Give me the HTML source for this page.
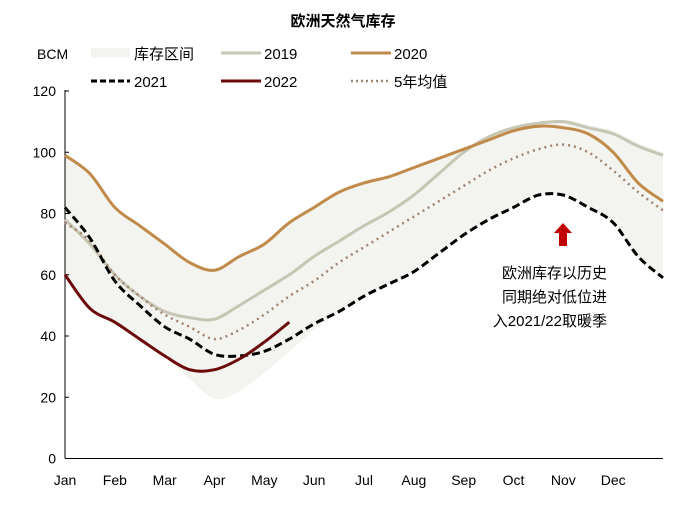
<!DOCTYPE html>
<html><head><meta charset="utf-8"><style>
body{margin:0;background:#fff;}
svg text{font-family:"Liberation Sans","Noto Sans CJK SC",sans-serif;}
</style></head><body>
<svg width="687" height="505" xmlns="http://www.w3.org/2000/svg">
<text x="343" y="26" text-anchor="middle" font-size="15" font-weight="bold" fill="#000">欧洲天然气库存</text>
<text x="37" y="59" font-size="14" fill="#000">BCM</text>
<g font-size="15">
 <g><rect x="91" y="48" width="39" height="9" fill="#f3f3ef"/><text x="134" y="59">库存区间</text></g>
 <g><line x1="221" y1="53" x2="261" y2="53" stroke="#c7c6b4" stroke-width="3"/><text x="264" y="59">2019</text></g>
 <g><line x1="351" y1="53" x2="391" y2="53" stroke="#c08b4a" stroke-width="3"/><text x="394" y="59">2020</text></g>
 <g><line x1="91" y1="81" x2="130" y2="81" stroke="#000" stroke-width="3" stroke-dasharray="6,3"/><text x="134" y="87">2021</text></g>
 <g><line x1="221" y1="81" x2="261" y2="81" stroke="#6b0a0a" stroke-width="3"/><text x="264" y="87">2022</text></g>
 <g><line x1="351" y1="81" x2="391" y2="81" stroke="#a08470" stroke-width="2.5" stroke-dasharray="2,3"/><text x="394" y="87">5年均值</text></g>
</g>
<g id="plot"></g>
<g>
 <polygon points="563,223 572,233 567,233 567,246 559,246 559,233 554,233" fill="#c00000"/>
 <text x="607" y="278" text-anchor="end" font-size="15">欧洲库存以历史</text>
 <text x="607" y="302" text-anchor="end" font-size="15">同期绝对低位进</text>
 <text x="607" y="326" text-anchor="end" font-size="15">入2021/22取暖季</text>
</g>
</svg>
<script>
// values on half-month grid: Jan start (0) .. end of Dec (12)
const months = ["Jan","Feb","Mar","Apr","May","Jun","Jul","Aug","Sep","Oct","Nov","Dec"];
const yTicks = [0,20,40,60,80,100,120];
const s2019 = [78,70,60,53,48,46,45.5,50,55,60,66,71,76,80.5,86,93,100,105,108,109.5,110,108,106,102,99];
const s2020 = [99,93,82,76,70,64,61.5,66,70,77,82,87,90,92,95,98,101,104,107,108.5,108,106,100,90,84];
const s2021 = [82,72,58,50,43,39,34,33.5,35,39,44,48,53,57,61,67,73,78,82,86,86,82,77,66,59];
const s2022 = [60,49,44.5,39,33.5,29,29,32.5,38,44.5];
const s5yr = [77,71,60,53,47,43,39,42,47,53,58,64,69,74,79,84,89,94,98,101,102.5,100,94,87,81];
const bandUpper = [99,93,82,76,70,64,61.5,66,70,77,82,87,90,92,95,98,101,104,107,109,110.5,109,107,103,100];
const bandLower = [60,49,44,38,33,26,19.5,22,28,35,42,48,53,57,61,67,73,78,82,86,86,82,77,66,59];

const X0=65, X1=663, Y0=458.5, Y120=91;
const xs = m => X0 + (X1-X0)*m/12;
const ys = v => Y0 + (Y120-Y0)*v/120;
const NS="http://www.w3.org/2000/svg";
const plot=document.getElementById('plot');
function mk(tag, attrs){const e=document.createElementNS(NS,tag);for(const k in attrs)e.setAttribute(k,attrs[k]);return e;}
function pts(arr){return arr.map((v,i)=>[xs(i*0.5),ys(v)]);}
function smooth(p){
  let d="M"+p[0][0].toFixed(1)+","+p[0][1].toFixed(1);
  for(let i=0;i<p.length-1;i++){
    const a=p[Math.max(i-1,0)],b=p[i],c=p[i+1],e=p[Math.min(i+2,p.length-1)];
    const c1=[b[0]+(c[0]-a[0])/6,b[1]+(c[1]-a[1])/6],c2=[c[0]-(e[0]-b[0])/6,c[1]-(e[1]-b[1])/6];
    d+="C"+c1[0].toFixed(1)+","+c1[1].toFixed(1)+" "+c2[0].toFixed(1)+","+c2[1].toFixed(1)+" "+c[0].toFixed(1)+","+c[1].toFixed(1);
  }
  return d;
}
const up=pts(bandUpper), lo=pts(bandLower).reverse();
const bandD=smooth(up)+smooth(lo).replace(/^M/,"L")+"Z";
const band=mk('path',{d:bandD,fill:'#f3f3ef'});


plot.appendChild(band);
const yAxis=mk('line',{x1:X0,y1:Y120-1,x2:X0,y2:Y0,stroke:'#000','stroke-width':1});


plot.appendChild(yAxis);
const xAxis=mk('line',{x1:X0,y1:Y0,x2:X1,y2:Y0,stroke:'#000','stroke-width':1});


plot.appendChild(xAxis);
yTicks.forEach(v=>{
  const t=mk('line',{x1:X0,y1:ys(v),x2:X0+4,y2:ys(v),stroke:'#000'});
  
  
  plot.appendChild(t);
  const l=mk('text',{x:56,y:ys(v)+5,'text-anchor':'end','font-size':14});
  l.textContent=v;
  
  
  plot.appendChild(l);
});
months.forEach((m,i)=>{
  const l=mk('text',{x:xs(i),y:485,'text-anchor':'middle','font-size':14});
  l.textContent=m;
  
  
  plot.appendChild(l);
});
function line(arr,name,style){
  const p=mk('path',Object.assign({d:smooth(pts(arr)),fill:'none'},style));
  
  
  plot.appendChild(p);
}
line(s2019,'line-2019',{stroke:'#c7c6b4','stroke-width':3});
line(s5yr,'line-5yr-avg',{stroke:'#a08470','stroke-width':2.5,'stroke-dasharray':'2,4'});
line(s2020,'line-2020',{stroke:'#c08b4a','stroke-width':3});
line(s2021,'line-2021',{stroke:'#000','stroke-width':3,'stroke-dasharray':'8,4'});
line(s2022,'line-2022',{stroke:'#6b0a0a','stroke-width':3});
</script>
</body></html>
